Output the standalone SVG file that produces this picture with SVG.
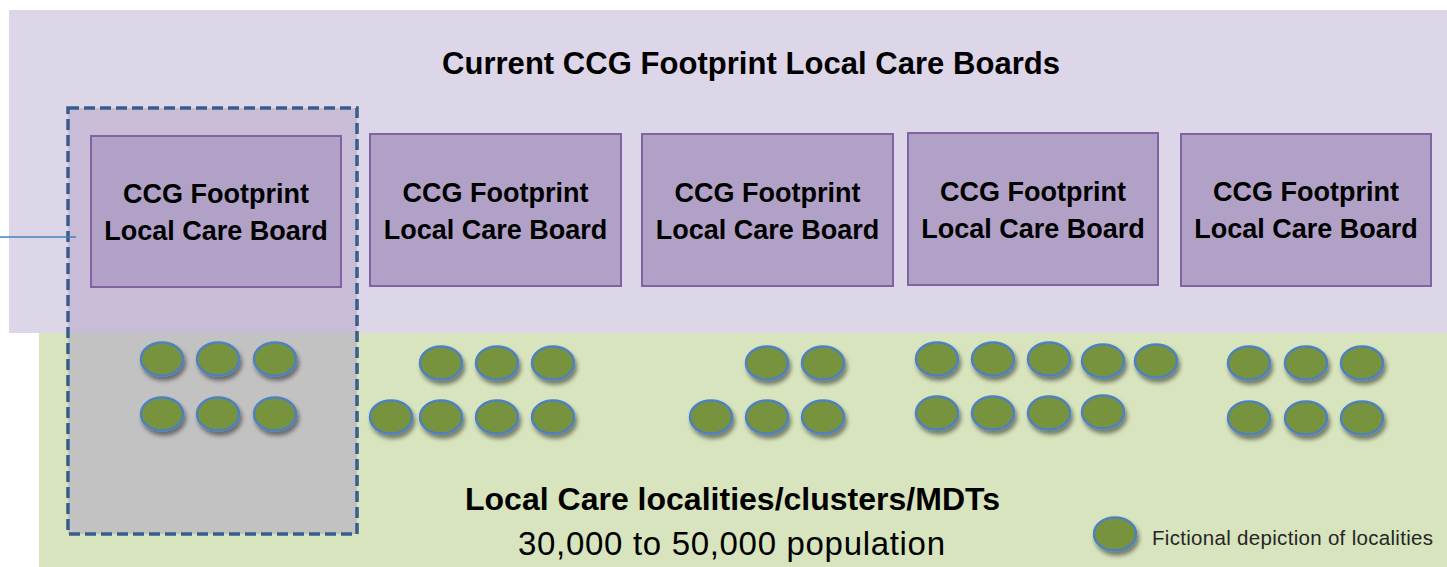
<svg xmlns="http://www.w3.org/2000/svg" width="1447" height="567" viewBox="0 0 1447 567">
<style>
.board{fill:#b2a1c7;stroke:#8064a2;stroke-width:2}
.bt{font-family:"Liberation Sans",Arial,sans-serif;font-weight:bold;font-size:27px;fill:#000;text-anchor:middle}
.loc{fill:#77933c;stroke:#4f81bd;stroke-width:2.5;filter:url(#sh)}
.title{font-family:"Liberation Sans",Arial,sans-serif;font-weight:bold;fill:#000}
.reg{font-family:"Liberation Sans",Arial,sans-serif;fill:#000}
</style>
<defs>
<filter id="sh" x="-30%" y="-30%" width="170%" height="180%">
<feDropShadow dx="2" dy="4" stdDeviation="2" flood-color="#000" flood-opacity="0.45"/>
</filter>
<ellipse id="e" rx="21" ry="16.5"/>
</defs>
<rect width="1447" height="567" fill="#ffffff"/>
<g id="background">
<rect x="9" y="10" width="1438" height="323" fill="#ddd6e8"/>
<rect x="39" y="333" width="1408" height="234" fill="#d7e4bd"/>
</g>
<g id="highlight">
<rect x="68" y="108" width="289" height="225" fill="#c9bcd7"/>
<rect x="68" y="333" width="289" height="201" fill="#c3c2c3"/>
<rect x="68" y="108" width="289" height="426" fill="none" stroke="#385d8a" stroke-width="3.5" stroke-dasharray="11,5"/>
</g>
<g id="connectors">
<line x1="0" y1="237" x2="76" y2="237" stroke="#4a7ebb" stroke-width="1.5"/>
</g>
<g id="title">
<text class="title" x="442" y="74" font-size="31" textLength="618">Current CCG Footprint Local Care Boards</text>
</g>
<g id="board1">
<rect class="board" x="91" y="136" width="250" height="151"/>
<text class="bt" x="216" y="203">CCG Footprint</text>
<text class="bt" x="216" y="240">Local Care Board</text>
</g>
<g id="board2">
<rect class="board" x="370" y="134" width="251" height="152"/>
<text class="bt" x="495.5" y="202">CCG Footprint</text>
<text class="bt" x="495.5" y="239">Local Care Board</text>
</g>
<g id="board3">
<rect class="board" x="642" y="134" width="251" height="152"/>
<text class="bt" x="767.5" y="202">CCG Footprint</text>
<text class="bt" x="767.5" y="239">Local Care Board</text>
</g>
<g id="board4">
<rect class="board" x="908" y="133" width="250" height="152"/>
<text class="bt" x="1033" y="201">CCG Footprint</text>
<text class="bt" x="1033" y="238">Local Care Board</text>
</g>
<g id="board5">
<rect class="board" x="1181" y="134" width="250" height="152"/>
<text class="bt" x="1306" y="201">CCG Footprint</text>
<text class="bt" x="1306" y="238">Local Care Board</text>
</g>
<g id="localities1">
<use href="#e" class="loc" x="162" y="359"/><use href="#e" class="loc" x="218" y="359"/><use href="#e" class="loc" x="275" y="359"/>
<use href="#e" class="loc" x="162" y="414"/><use href="#e" class="loc" x="218" y="414"/><use href="#e" class="loc" x="275" y="414"/>
</g>
<g id="localities2">
<use href="#e" class="loc" x="441" y="363"/><use href="#e" class="loc" x="497" y="363"/><use href="#e" class="loc" x="553" y="363"/>
<use href="#e" class="loc" x="391" y="417"/><use href="#e" class="loc" x="441" y="417"/><use href="#e" class="loc" x="497" y="417"/><use href="#e" class="loc" x="553" y="417"/>
</g>
<g id="localities3">
<use href="#e" class="loc" x="767" y="363"/><use href="#e" class="loc" x="823" y="363"/>
<use href="#e" class="loc" x="711" y="417"/><use href="#e" class="loc" x="767" y="417"/><use href="#e" class="loc" x="823" y="417"/>
</g>
<g id="localities4">
<use href="#e" class="loc" x="937" y="359"/><use href="#e" class="loc" x="993" y="359"/><use href="#e" class="loc" x="1049" y="359"/><use href="#e" class="loc" x="1103" y="361"/><use href="#e" class="loc" x="1156" y="361"/>
<use href="#e" class="loc" x="937" y="413"/><use href="#e" class="loc" x="993" y="413"/><use href="#e" class="loc" x="1049" y="413"/><use href="#e" class="loc" x="1103" y="412"/>
</g>
<g id="localities5">
<use href="#e" class="loc" x="1249" y="363"/><use href="#e" class="loc" x="1306" y="363"/><use href="#e" class="loc" x="1362" y="363"/>
<use href="#e" class="loc" x="1249" y="418"/><use href="#e" class="loc" x="1306" y="418"/><use href="#e" class="loc" x="1362" y="418"/>
</g>
<g id="caption">
<text class="title" x="465" y="510" font-size="32" textLength="535">Local Care localities/clusters/MDTs</text>
<text class="reg" x="518" y="555" font-size="33" textLength="427">30,000 to 50,000 population</text>
</g>
<g id="legend">
<use href="#e" class="loc" x="1115" y="534"/>
<text class="reg" x="1152" y="545" font-size="20.5" style="fill:#262626" textLength="281">Fictional depiction of localities</text>
</g>
</svg>
